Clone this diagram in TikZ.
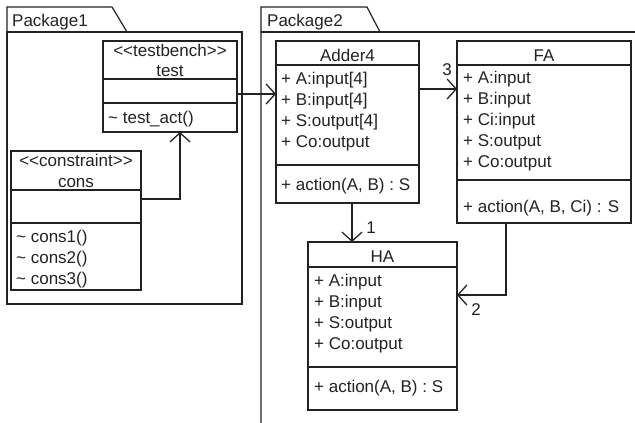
\documentclass[tikz,border=0pt]{standalone}
\usepackage{fontspec}
\setmainfont{Liberation Sans}
\usetikzlibrary{arrows.meta}
\definecolor{ink}{HTML}{222222}
\begin{document}
\begin{tikzpicture}[x=1pt,y=-1pt,
  every node/.style={font=\fontsize{17}{21}\selectfont, text=ink},
  classbox/.style={draw=ink, line width=1.4pt, anchor=north west, inner sep=0pt, outer sep=0pt},
  sep/.style={draw=ink, line width=1.2pt},
  pkg/.style={draw=ink, line width=1.2pt},
  arr/.style={draw=ink, line width=1.3pt, -{Straight Barb[length=9pt,width=20pt,line width=1.3pt]}},
  lnk/.style={draw=ink, line width=1.3pt},
  txt/.style={anchor=base west, inner sep=0pt},
  ctxt/.style={anchor=base, inner sep=0pt},
  mult/.style={inner sep=0pt, anchor=center}]
\useasboundingbox (0,0) rectangle (635,423);

% packages
\draw[pkg] (7,32) -- (7,7) -- (112,7) -- (127,32);
\draw[pkg] (7,32) rectangle (242,304);
\node[txt] (p1) at (12,27) {Package1};
\draw[pkg] (261,423) -- (261,7) -- (367,7) -- (380,32);
\draw[pkg] (261,32) -- (635,32);
\node[txt] (p2) at (267,27) {Package2};

% class test
\node[classbox, minimum width=134pt, minimum height=91pt] (test) at (103,41) {};
\draw[sep] (test.west |- 0,79) -- (test.east |- 0,79);
\draw[sep] (test.west |- 0,103) -- (test.east |- 0,103);
\node[ctxt] (tst1) at (170,56) {<{}<testbench>{}>};
\node[ctxt] (tst2) at (170,76) {test};
\node[txt] (tst3) at (108,123) {\textasciitilde{} test\_act()};

% class cons
\node[classbox, minimum width=130pt, minimum height=139pt] (cons) at (11,151) {};
\draw[sep] (cons.west |- 0,190) -- (cons.east |- 0,190);
\draw[sep] (cons.west |- 0,223) -- (cons.east |- 0,223);
\node[ctxt] (cn1) at (76,166) {<{}<constraint>{}>};
\node[ctxt] (cn2) at (76,187) {cons};
\node[txt] (cn3) at (16,242) {\textasciitilde{} cons1()};
\node[txt] (cn4) at (16,263) {\textasciitilde{} cons2()};
\node[txt] (cn5) at (16,284) {\textasciitilde{} cons3()};

% class Adder4
\node[classbox, minimum width=143pt, minimum height=162pt] (adder) at (276,41) {};
\draw[sep] (adder.west |- 0,65) -- (adder.east |- 0,65);
\draw[sep] (adder.west |- 0,165) -- (adder.east |- 0,165);
\node[ctxt] (ad0) at (347.5,61) {Adder4};
\node[txt] (ad1) at (281,84) {+ A:input[4]};
\node[txt] (ad2) at (281,105) {+ B:input[4]};
\node[txt] (ad3) at (281,126) {+ S:output[4]};
\node[txt] (ad4) at (281,147) {+ Co:output};
\node[txt] (ad5) at (281,190) {+ action(A, B) : S};

% class FA
\node[classbox, minimum width=174pt, minimum height=182pt] (fa) at (457,41) {};
\draw[sep] (fa.west |- 0,65) -- (fa.east |- 0,65);
\draw[sep] (fa.west |- 0,180) -- (fa.east |- 0,180);
\node[ctxt] (fa0) at (544,61) {FA};
\node[txt] (fa1) at (463,83) {+ A:input};
\node[txt] (fa2) at (463,104) {+ B:input};
\node[txt] (fa3) at (463,125) {+ Ci:input};
\node[txt] (fa4) at (463,146) {+ S:output};
\node[txt] (fa5) at (463,167) {+ Co:output};
\node[txt] (fa6) at (463,212) {+ action(A, B, Ci) : S};

% class HA
\node[classbox, minimum width=149pt, minimum height=168pt] (ha) at (308,242) {};
\draw[sep] (ha.west |- 0,267) -- (ha.east |- 0,267);
\draw[sep] (ha.west |- 0,367) -- (ha.east |- 0,367);
\node[ctxt] (ha0) at (382.5,262) {HA};
\node[txt] (ha1) at (314,286) {+ A:input};
\node[txt] (ha2) at (314,307) {+ B:input};
\node[txt] (ha3) at (314,328) {+ S:output};
\node[txt] (ha4) at (314,349) {+ Co:output};
\node[txt] (ha5) at (314,392) {+ action(A, B) : S};

% connectors
\draw[arr] (cons.east |- 0,199) -| (test.south -| 180,0);
\draw[arr] (test.east |- 0,94) -- (adder.west |- 0,94);
\draw[arr] (adder.east |- 0,89) -- (fa.west |- 0,89);
\draw[arr] (adder.south -| 352,0) -- (ha.north -| 352,0);
\draw[arr] (fa.south -| 506,0) |- (ha.east |- 0,295);

% multiplicities
\node[mult] (m3) at (447,70) {3};
\node[mult] (m1) at (371,228) {1};
\node[mult] (m2) at (476,310) {2};
\end{tikzpicture}
\end{document}
